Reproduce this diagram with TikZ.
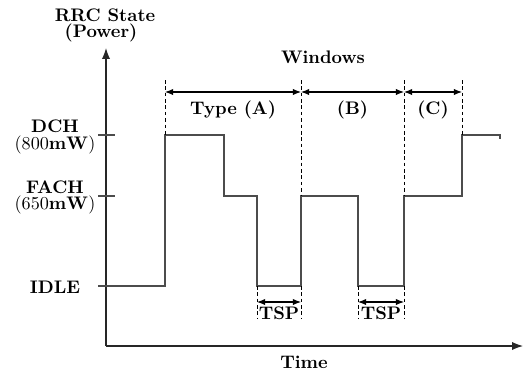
\documentclass[tikz,border=0pt]{standalone}
\usepackage{amsmath}
\usetikzlibrary{arrows.meta}
\tikzset{axis line/.style={line width=0.6pt,black!85,-{Latex[length=6pt,width=4.5pt]}},
	signal/.style={line width=0.6pt,black!70},
	guide/.style={line width=0.5pt,dash pattern=on 2pt off 1.5pt},
	span/.style={line width=0.6pt,{Latex[length=4.5pt,width=3.5pt]}-{Latex[length=4.5pt,width=3.5pt]}},
	level label/.style={font=\bfseries,align=center}}

\begin{document}
\begin{tikzpicture}[x=0.55pt,y=0.55pt,font=\bfseries]
			\useasboundingbox (0,0) rectangle (526,372);
			\coordinate (O) at (106,26);
			\coordinate (ytop) at (106,324);
			\coordinate (xend) at (523,26);
			\draw[axis line] (O) -- (ytop);
			\draw[axis line] (O) -- (xend);
			\node (rrc) at (105,357) {RRC State};
			\node (pwr) at (101,339) {(Power)};
			\node (time) at (304,10) {Time};
			\node (dch) at (55,246) {DCH};
			\node (dchp) at (55,227) {$(800\mathbf{mW})$};
			\node (fach) at (55,185) {FACH};
			\node (fachp) at (55,167) {$(650\mathbf{mW})$};
			\node (idle) at (55,85) {IDLE};
			\foreach \y in {237,176,86}
				\draw[signal] (98,\y) -- (115,\y);
			\draw[signal] (106,86) -- (165,86) |- (224,237) |- (257,176) |- (301,86)
				|- (358,176) |- (404,86) |- (462,176) |- (500,237) -- (500,233);
			\foreach \x/\y in {165/237,301/176,404/176,462/237}
				\draw[guide] (\x,292) -- (\x,\y);
			\node (win) at (323,315) {Windows};
			\draw[span] (165,280) -- node[below=1pt] (wa) {Type (A)} (301,280);
			\draw[span] (301,280) -- node[below=1pt] (wb) {(B)} (404,280);
			\draw[span] (404,280) -- node[below=1pt] (wc) {(C)} (462,280);
			\foreach \a/\b/\n in {257/301/tspa,358/404/tspb}{
				\draw[guide] (\a,86) -- (\a,54);
				\draw[guide] (\b,86) -- (\b,54);
				\draw[span] (\a,70) -- node[below=-1pt] (\n) {TSP} (\b,70);
			}
		\end{tikzpicture}
\end{document}
